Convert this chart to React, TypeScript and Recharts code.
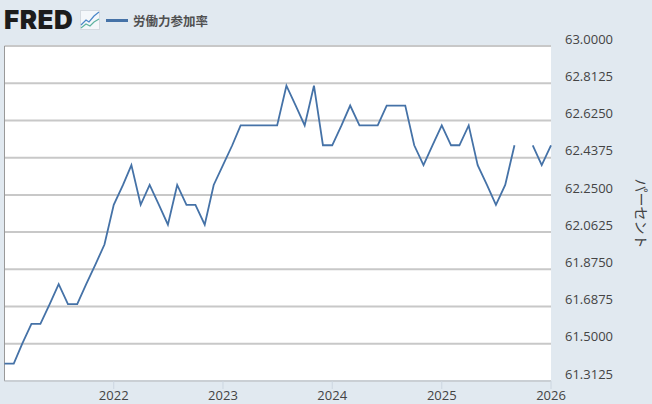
import {
  LineChart,
  Line,
  XAxis,
  YAxis,
  CartesianGrid,
  ReferenceLine,
} from "recharts";

const seriesName = "労働力参加率";
const axisTitle = "パーセント";

const months = [
  "2021-01", "2021-02", "2021-03", "2021-04", "2021-05", "2021-06", "2021-07", "2021-08", "2021-09", "2021-10", "2021-11", "2021-12",
  "2022-01", "2022-02", "2022-03", "2022-04", "2022-05", "2022-06", "2022-07", "2022-08", "2022-09", "2022-10", "2022-11", "2022-12",
  "2023-01", "2023-02", "2023-03", "2023-04", "2023-05", "2023-06", "2023-07", "2023-08", "2023-09", "2023-10", "2023-11", "2023-12",
  "2024-01", "2024-02", "2024-03", "2024-04", "2024-05", "2024-06", "2024-07", "2024-08", "2024-09", "2024-10", "2024-11", "2024-12",
  "2025-01", "2025-02", "2025-03", "2025-04", "2025-05", "2025-06", "2025-07", "2025-08", "2025-09", "2025-10", "2025-11", "2025-12",
  "2026-01",
];

const rates = [
  61.4, 61.4, 61.5, 61.6, 61.6, 61.7, 61.8, 61.7, 61.7, 61.8, 61.9, 62.0,
  62.2, 62.3, 62.4, 62.2, 62.3, 62.2, 62.1, 62.3, 62.2, 62.2, 62.1, 62.3,
  62.4, 62.5, 62.6, 62.6, 62.6, 62.6, 62.6, 62.8, 62.7, 62.6, 62.8, 62.5,
  62.5, 62.6, 62.7, 62.6, 62.6, 62.6, 62.7, 62.7, 62.7, 62.5, 62.4, 62.5,
  62.6, 62.5, 62.5, 62.6, 62.4, 62.3, 62.2, 62.3, 62.5, null, 62.5, 62.4,
  62.5,
];

const yTicks = [61.3125, 61.5, 61.6875, 61.875, 62.0625, 62.25, 62.4375, 62.625, 62.8125, 63];
const yearTicks = [2022, 2023, 2024, 2025, 2026];

const toTime = (month: string) => Date.parse(month + "-01T00:00:00Z");

const data = months.map((month, i) => ({ time: toTime(month), rate: rates[i] }));
const xStart = toTime(months[0]);
const xEnd = toTime(months[months.length - 1]);
const xTicks = yearTicks.map((year) => Date.UTC(year, 0, 1));

const LINE_COLOR = "#4572a7";
const TEXT_COLOR = "#444444";
const FONT = "'Open Sans', 'Noto Sans CJK JP', sans-serif";

export default function App() {
  return (
    <div style={{ position: "absolute", left: 0, top: 0, width: 652, height: 404, background: "#e1e9f0", overflow: "hidden", fontFamily: FONT }}>
      <div style={{ position: "absolute", left: 4, top: 3, fontFamily: "Inter", fontWeight: 900, fontSize: 26, lineHeight: "34px", letterSpacing: 0.5, color: "#1c1c1c" }}>
        FRED
      </div>
      <svg width={20} height={20} style={{ position: "absolute", left: 79.5, top: 9.5 }}>
        <rect x={0.5} y={0.5} width={19} height={19} fill="#f4f7fa" stroke="#d4dae0" />
        <polyline points="1,15 6,10 9,12 14,6 19,2" fill="none" stroke="#4a86c8" strokeWidth={1.2} />
        <polyline points="1,18 6,14 10,16 14,12 19,9" fill="none" stroke="#5fb3a0" strokeWidth={1.2} />
      </svg>
      <div style={{ position: "absolute", left: 106, top: 19, width: 22, height: 3, background: LINE_COLOR }} />
      <div style={{ position: "absolute", left: 133, top: 11, fontFamily: "'Noto Sans CJK JP'", fontWeight: 700, fontSize: 12.5, lineHeight: "19px", color: "#505050" }}>
        {seriesName}
      </div>
      <div style={{ position: "absolute", left: 0, top: 0 }}>
        <LineChart width={652} height={404} data={data} margin={{ top: 46, right: 0, bottom: 0, left: 4.5 }}>
          <CartesianGrid vertical={false} stroke="#c8c8c8" strokeWidth={2} fill="#ffffff" />
          <XAxis
            dataKey="time"
            type="number"
            scale="time"
            domain={[xStart, xEnd]}
            ticks={xTicks}
            tickFormatter={(t: number) => String(new Date(t).getUTCFullYear())}
            height={23}
            interval={0}
            stroke="#ccd6e0"
            tickSize={8}
            tickMargin={2}
            tick={{ fontSize: 13, fill: TEXT_COLOR, fontFamily: FONT }}
          />
          <YAxis
            orientation="right"
            type="number"
            domain={[61.3125, 63]}
            ticks={yTicks}
            interval={0}
            width={101}
            axisLine={false}
            tickLine={false}
            tickFormatter={(v: number) => v.toFixed(4)}
            tick={{ fontSize: 13, fill: TEXT_COLOR, fontFamily: FONT, dy: -7, dx: 6 }}
            label={{ value: axisTitle, angle: 90, position: "center", dx: 39.5, fontSize: 14, fill: TEXT_COLOR, fontFamily: "'Noto Sans CJK JP'", fontWeight: 400 }}
          />
          <ReferenceLine x={xStart} stroke="#999999" strokeWidth={1} />
          <Line
            dataKey="rate"
            name={seriesName}
            type="linear"
            stroke={LINE_COLOR}
            strokeWidth={1.8}
            dot={false}
            activeDot={false}
            connectNulls={false}
            isAnimationActive={false}
          />
        </LineChart>
      </div>
    </div>
  );
}
